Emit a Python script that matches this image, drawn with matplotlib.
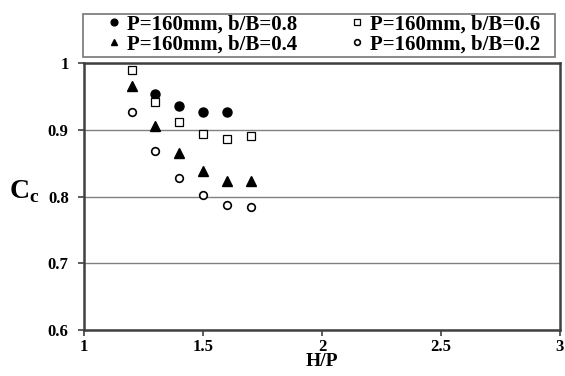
import matplotlib
matplotlib.use("Agg")
import matplotlib.pyplot as plt
from matplotlib.patches import Rectangle

hp_08 = [1.3, 1.4, 1.5, 1.6]
cc_08 = [0.954, 0.935, 0.927, 0.927]
hp_06 = [1.2, 1.3, 1.4, 1.5, 1.6, 1.7]
cc_06 = [0.990, 0.9415, 0.911, 0.894, 0.887, 0.891]
hp_04 = [1.2, 1.3, 1.4, 1.5, 1.6, 1.7]
cc_04 = [0.966, 0.906, 0.865, 0.838, 0.824, 0.823]
hp_02 = [1.2, 1.3, 1.4, 1.5, 1.6, 1.7]
cc_02 = [0.926, 0.868, 0.828, 0.802, 0.788, 0.785]
labels = ["P=160mm, b/B=0.8", "P=160mm, b/B=0.6", "P=160mm, b/B=0.4", "P=160mm, b/B=0.2"]
xticks = [1, 1.5, 2, 2.5, 3]
xticklabels = ["1", "1.5", "2", "2.5", "3"]
yticks = [0.6, 0.7, 0.8, 0.9, 1.0]
yticklabels = ["0.6", "0.7", "0.8", "0.9", "1"]

plt.rcParams['font.family'] = ['Liberation Serif', 'DejaVu Serif']
plt.rcParams['font.weight'] = 'bold'
plt.rcParams['mathtext.fontset'] = 'custom'
plt.rcParams['mathtext.rm'] = 'Liberation Serif:bold'
plt.rcParams['mathtext.bf'] = 'Liberation Serif:bold'

fig = plt.figure(figsize=(5.65, 3.76), dpi=100)
ax = fig.add_axes([0.1487, 0.1215, 0.8423, 0.7109])

h1, = ax.plot(hp_08, cc_08, 'o', color='black', markersize=6.5, linestyle='none', label=labels[0])
h2, = ax.plot(hp_06, cc_06, 's', markerfacecolor='white', markeredgecolor='black', markeredgewidth=0.9, markersize=5.5, linestyle='none', label=labels[1])
h3, = ax.plot(hp_04, cc_04, '^', color='black', markersize=6.5, linestyle='none', label=labels[2])
h4, = ax.plot(hp_02, cc_02, 'o', markerfacecolor='white', markeredgecolor='black', markeredgewidth=1.2, markersize=5.5, linestyle='none', label=labels[3])

ax.set_xlim(1, 3)
ax.set_ylim(0.6, 1.0)
ax.set_xticks(xticks)
ax.set_xticklabels(xticklabels, fontsize=12, fontweight='bold')
ax.set_yticks(yticks)
ax.set_yticklabels(yticklabels, fontsize=12, fontweight='bold')
ax.yaxis.grid(True, color='#808080', linewidth=1.0)
ax.set_axisbelow(True)
for s in ax.spines.values():
    s.set_linewidth(1.8)
    s.set_color('#404040')
ax.tick_params(direction='out', length=4, width=1.2, color='#404040')
ax.tick_params(axis='y', pad=7)
ax.tick_params(axis='x', pad=2)

ax.set_xlabel("H/P", fontsize=14, fontweight='bold', labelpad=-1)
ax.set_ylabel("C$_\\mathrm{c}$", fontsize=20, fontweight='bold', rotation=0, labelpad=0)
ax.yaxis.set_label_coords(-0.125, 0.47)

fig.patches.append(Rectangle((0.1469, 0.8484), 0.8354, 0.1144, transform=fig.transFigure,
                             facecolor='white', edgecolor='#808080', linewidth=1.3))
leg = fig.legend(handles=[h1, h3, h2, h4], loc='upper left',
                 bbox_to_anchor=(0.191, 0.962), borderaxespad=0,
                 ncol=2, frameon=False,
                 handlelength=0.6, handletextpad=0.3, borderpad=0.0,
                 labelspacing=0.0, columnspacing=2.6, markerscale=0.75,
                 prop={'weight': 'bold', 'size': 15})

fig.savefig("out.png", dpi=100)
